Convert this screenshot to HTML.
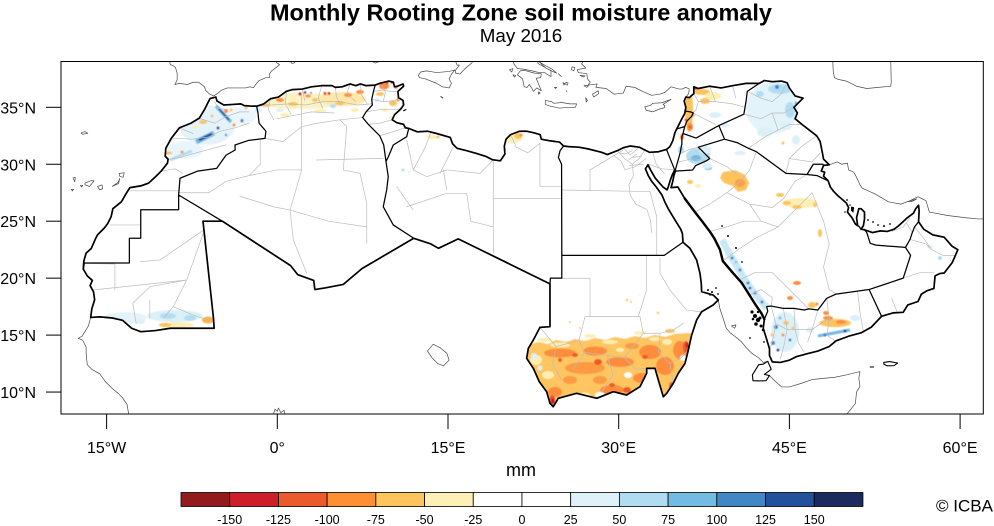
<!DOCTYPE html>
<html><head><meta charset="utf-8">
<style>
html,body{margin:0;padding:0;background:#fff;}
svg{display:block;}
.m path{vector-effect:non-scaling-stroke;fill:none;stroke-linejoin:round;stroke-linecap:round;}
.out{stroke:#000;stroke-width:1.7;}
.int{stroke:#000;stroke-width:1.25;}
.cst{stroke:#4a4a4a;stroke-width:0.7;}
.adm{stroke:#bcbcbc;stroke-width:0.7;}
.blk{stroke:#000;stroke-width:1.1;}
text{font-family:"Liberation Sans",Arial,sans-serif;fill:#000;}
</style></head><body>
<svg width="994" height="526" viewBox="0 0 994 526" xmlns="http://www.w3.org/2000/svg">
<defs>
<clipPath id="fr"><rect x="61" y="61" width="922.3" height="353"/></clipPath>
<clipPath id="land"><path transform="matrix(11.38 0 0 -11.39 277.3 505.95)" d="M-16.4 16.55 L-16.3 17.3 -16.05 18.1 -16.15 18.8 -16.45 19.35 -16.25 19.8 -16.7 20.2 -17.05 20.8 -17.0 21.5 -16.8 22.2 -16.35 22.6 -16.0 23.4 -15.8 23.8 -15.2 24.4 -14.9 24.8 -14.6 25.4 -14.45 26.1 -13.7 26.7 -13.3 27.4 -12.95 27.95 -12.0 28.1 -11.3 28.35 -10.7 28.9 -10.2 29.4 -9.65 30.1 -9.6 30.45 -9.85 30.7 -9.8 31.4 -9.3 32.3 -8.6 33.2 -7.6 33.6 -6.85 34.05 -6.4 34.8 -6.1 35.4 -5.9 35.78 -5.4 35.9 -5.3 35.55 -4.7 35.2 -3.9 35.25 -3.2 35.3 -2.9 35.15 -2.2 35.1 -1.8 35.1 -1.2 35.3 -0.6 35.75 0.1 35.9 0.8 36.4 1.3 36.55 2.2 36.6 3.0 36.8 3.9 36.9 4.8 36.9 5.1 36.75 5.7 36.8 6.4 37.05 6.9 36.9 7.3 37.05 7.8 36.9 8.6 36.95 9.0 37.1 9.8 37.3 10.2 37.2 10.3 36.8 10.55 36.85 11.05 37.05 11.1 36.85 10.6 36.4 10.65 35.85 11.05 35.6 11.1 35.2 10.85 34.85 10.3 34.35 10.1 33.9 10.5 33.65 11.1 33.5 11.25 33.2 11.55 33.15 12.3 32.85 13.2 32.9 14.0 32.7 15.2 32.35 15.4 31.8 15.8 31.4 16.6 31.2 17.5 30.95 18.3 30.7 18.9 30.4 19.6 30.3 20.0 30.9 19.95 31.6 20.1 32.2 20.5 32.6 21.3 32.9 21.9 32.9 22.6 32.75 23.1 32.6 23.2 32.2 24.0 32.05 24.8 31.95 25.15 31.6 25.6 31.55 26.5 31.5 27.3 31.35 28.5 31.05 29.0 30.85 29.9 31.2 30.4 31.45 31.0 31.6 31.8 31.5 32.3 31.25 32.7 31.05 33.5 31.1 34.2 31.3 34.5 31.55 34.75 32.05 34.95 32.8 35.1 33.1 35.5 33.9 35.8 34.45 35.9 35.0 35.75 35.55 35.9 35.9 36.2 35.85 36.6 36.2 36.6 36.8 37.0 36.65 38.0 36.85 39.0 36.7 40.0 36.9 41.2 37.1 42.35 37.1 42.8 37.35 43.5 37.25 44.3 37.3 44.8 37.15 45.0 36.7 45.5 36.0 46.2 35.8 45.4 35.0 45.7 34.5 45.5 34.0 46.1 33.5 47.4 32.5 47.7 32.0 47.9 31.0 48.0 30.45 48.5 29.95 48.0 29.9 47.8 29.4 48.1 29.3 48.0 28.95 48.4 28.55 48.6 28.0 48.9 27.6 49.3 27.2 49.6 26.95 50.0 26.6 50.2 26.2 50.1 25.8 50.5 25.3 50.8 24.75 51.0 24.6 50.9 25.3 51.1 26.1 51.3 26.1 51.6 25.8 51.6 25.2 51.5 24.6 51.3 24.3 51.6 24.25 52.3 24.0 53.0 24.15 53.6 24.1 54.2 24.3 54.6 24.6 55.3 25.25 55.9 25.7 56.1 26.1 56.35 26.4 56.4 25.9 56.35 24.95 56.8 24.3 57.6 23.8 58.6 23.6 59.3 22.8 59.8 22.5 59.5 21.8 59.3 21.35 58.6 20.45 58.2 20.4 57.8 20.2 57.7 19.1 57.1 18.9 56.6 18.6 56.3 17.95 55.4 17.65 55.0 17.0 54.1 16.95 53.1 16.65 52.2 15.7 51.3 15.2 50.2 14.9 49.1 14.5 48.5 14.0 47.5 13.6 46.7 13.4 45.6 13.1 45.0 12.8 44.2 12.6 43.5 12.65 43.25 13.2 43.25 13.8 42.95 14.8 42.7 15.6 42.8 16.4 42.55 16.9 42.0 17.7 41.5 18.5 40.8 19.6 40.0 20.5 39.15 21.5 38.9 22.5 38.4 23.5 38.0 24.1 37.4 24.9 36.7 25.8 35.8 27.0 35.2 28.0 34.6 27.95 34.75 28.5 34.85 29.0 35.0 29.45 34.92 29.5 34.7 29.05 34.5 28.5 34.35 28.0 34.25 27.75 33.9 28.0 33.5 28.45 33.2 28.8 32.8 29.5 32.57 29.95 32.35 29.6 32.6 29.0 32.9 28.5 33.3 28.0 33.8 27.3 34.05 26.7 34.35 26.1 34.95 25.1 35.45 24.3 35.6 23.9 35.65 23.15 36.26 22.62 36.85 21.59 37.14 20.43 37.25 19.6 37.29 18.81 38.3 18.52 38.75 18.08 38.3 17.64 37.29 17.05 36.85 16.33 36.41 15.0 36.12 13.69 35.83 12.52 35.24 11.65 34.8 10.77 34.22 9.89 33.92 9.59 33.48 11.06 33.19 12.08 32.46 12.08 32.46 11.65 31.87 10.47 30.7 9.74 29.53 10.03 28.07 9.45 26.3 9.89 24.69 9.45 24.25 8.71 23.96 9.01 23.67 10.03 23.02 10.91 22.5 12.08 21.91 12.96 22.06 13.84 22.5 14.57 23.08 15.68 23.96 15.74 23.96 19.5 15.9 23.45 14.16 22.62 13.5 23.0 11.99 23.5 7.45 20.85 5.8 19.45 4.25 19.15 3.3 19.0 3.2 19.8 1.8 20.3 1.17 21.1 -4.83 25.0 -6.53 25.0 -5.6 16.4 -5.55 15.6 -9.4 15.6 -10.7 15.4 -12.0 15.3 -12.8 15.6 -13.6 16.3 -14.5 16.5 -15.6 16.6 Z"/></clipPath>
<clipPath id="sdn"><path transform="matrix(11.38 0 0 -11.39 277.3 505.95)" d="M25.0 22.0 L34.0 22.0 35.65 23.15 36.26 22.62 36.85 21.59 37.14 20.43 37.25 19.6 37.29 18.81 38.3 18.52 38.75 18.08 38.3 17.64 37.29 17.05 36.85 16.33 36.41 15.0 36.12 13.69 35.83 12.52 35.24 11.65 34.8 10.77 34.22 9.89 33.92 9.59 33.48 11.06 33.19 12.08 32.46 12.08 32.46 11.65 31.87 10.47 30.7 9.74 29.53 10.03 28.07 9.45 26.3 9.89 24.69 9.45 24.25 8.71 23.96 9.01 23.67 10.03 23.02 10.91 22.5 12.08 21.91 12.96 22.06 13.84 22.5 14.57 23.08 15.68 23.96 15.74 23.96 19.5 24.0 20.0 25.0 20.0 Z"/></clipPath>
<filter id="bl" x="-5%" y="-5%" width="110%" height="110%"><feGaussianBlur stdDeviation="0.6"/></filter>
</defs>

<!-- Title -->
<text x="521" y="20.5" font-size="23.5" font-weight="bold" text-anchor="middle" textLength="502" lengthAdjust="spacingAndGlyphs">Monthly Rooting Zone soil moisture anomaly</text>
<text x="521" y="42" font-size="18.8" text-anchor="middle">May 2016</text>

<g clip-path="url(#fr)">
<!-- data -->
<g clip-path="url(#land)">
<g filter="url(#bl)">
<!-- Morocco -->
<ellipse cx="207" cy="125" rx="28" ry="20" fill="#e4f3fa"/>
<ellipse cx="185" cy="150" rx="18" ry="9" fill="#e8f5fb"/>
<ellipse cx="240" cy="116" rx="16" ry="9" fill="#eaf6fb"/>
<polyline points="170,160 182,155 192,151" fill="none" stroke="#b2ddf1" stroke-width="3"/>
<line x1="196" y1="142" x2="214" y2="133" stroke="#74b9e1" stroke-width="5"/>
<line x1="199" y1="140" x2="212" y2="134" stroke="#23519b" stroke-width="2.5"/>
<line x1="216" y1="106" x2="231" y2="122" stroke="#74b9e1" stroke-width="3.5"/>
<line x1="219" y1="109" x2="229" y2="120" stroke="#23519b" stroke-width="1.6"/>
<circle cx="218" cy="128" r="1.5" fill="#23519b"/>
<circle cx="242" cy="120" r="1.3" fill="#4386c6"/>
<circle cx="226" cy="135" r="1.2" fill="#4386c6"/>
<circle cx="226" cy="111" r="2" fill="#fd8d3c"/>
<circle cx="231" cy="110" r="1.5" fill="#fec35c"/>
<ellipse cx="203" cy="122" rx="4" ry="2" fill="#fec35c"/>
<ellipse cx="168" cy="153" rx="4" ry="1.6" fill="#fec35c"/>
<circle cx="182" cy="152" r="1.5" fill="#fd8d3c"/>
<circle cx="234" cy="125" r="1.5" fill="#fd8d3c"/>
<ellipse cx="195" cy="127" rx="3" ry="1.5" fill="#fdefb2"/>
<circle cx="212" cy="116" r="1.5" fill="#fec35c"/>
<circle cx="246" cy="108" r="1.5" fill="#fec35c"/>
<!-- Algeria north -->
<ellipse cx="300" cy="101" rx="45" ry="8" fill="#fdf2c4"/>
<ellipse cx="342" cy="99" rx="24" ry="7" fill="#fde8a8"/>
<ellipse cx="265" cy="105" rx="5" ry="2" fill="#fec35c"/>
<ellipse cx="280" cy="100" rx="4" ry="2" fill="#fd8d3c"/>
<ellipse cx="293" cy="104" rx="5" ry="2" fill="#fec35c"/>
<circle cx="300" cy="94" r="1.6" fill="#cb1f26"/>
<ellipse cx="308" cy="96" rx="3" ry="1.5" fill="#fd8d3c"/>
<circle cx="325" cy="93.5" r="1.6" fill="#ee5a2a"/>
<circle cx="329" cy="93.5" r="1.4" fill="#cb1f26"/>
<ellipse cx="340" cy="103" rx="5" ry="2" fill="#fec35c"/>
<ellipse cx="348" cy="95" rx="4" ry="2" fill="#fd8d3c"/>
<ellipse cx="360" cy="92" rx="4" ry="2" fill="#fd8d3c"/>
<ellipse cx="355" cy="110" rx="4" ry="2" fill="#fdefb2"/>
<ellipse cx="320" cy="111" rx="6" ry="2" fill="#fdefb2"/>
<ellipse cx="285" cy="115" rx="5" ry="2" fill="#fdefb2"/>
<ellipse cx="315" cy="100" rx="3" ry="2" fill="#fec35c"/>
<circle cx="305" cy="92.5" r="1.3" fill="#23519b"/>
<circle cx="311" cy="93" r="1" fill="#4386c6"/>
<ellipse cx="280" cy="110" rx="4" ry="2" fill="#dcf0f8"/>
<ellipse cx="258" cy="110" rx="4" ry="3" fill="#dcf0f8"/>
<circle cx="242" cy="121" r="1.5" fill="#4386c6"/>
<ellipse cx="270" cy="97" rx="3" ry="1.5" fill="#b2ddf1"/>
<ellipse cx="333" cy="106" rx="3" ry="2" fill="#b2ddf1"/>
<!-- Tunisia -->
<ellipse cx="384" cy="86" rx="5" ry="3.5" fill="#fd8d3c"/>
<circle cx="387" cy="83" r="1.6" fill="#ee5a2a"/>
<circle cx="396" cy="87" r="1.6" fill="#ee5a2a"/>
<circle cx="392" cy="82" r="1.5" fill="#cb1f26"/>
<ellipse cx="380" cy="94" rx="4" ry="2" fill="#fec35c"/>
<ellipse cx="393" cy="103" rx="4" ry="3" fill="#fec35c"/>
<circle cx="398" cy="100" r="1.5" fill="#fd8d3c"/>
<ellipse cx="385" cy="110" rx="3" ry="2" fill="#fdefb2"/>
<ellipse cx="377" cy="100" rx="3" ry="2" fill="#dcf0f8"/>
<ellipse cx="392" cy="118" rx="3" ry="2" fill="#fdefb2"/>
<!-- Libya -->
<ellipse cx="432" cy="137" rx="6" ry="2" fill="#fdefb2"/>
<circle cx="438" cy="137" r="1.5" fill="#fec35c"/>
<ellipse cx="513" cy="138" rx="9" ry="5" fill="#fdefb2"/>
<ellipse cx="518" cy="136" rx="4" ry="3" fill="#fec35c"/>
<circle cx="521" cy="135" r="1.5" fill="#fd8d3c"/>
<circle cx="403" cy="170" r="1.5" fill="#b2ddf1"/>
<circle cx="409" cy="172" r="1.2" fill="#dcf0f8"/>
<!-- Levant -->
<ellipse cx="689" cy="110" rx="4" ry="22" fill="#fec35c"/>
<ellipse cx="690" cy="127" rx="3" ry="4" fill="#fd8d3c"/>
<circle cx="690" cy="127" r="1.5" fill="#ee5a2a"/>
<ellipse cx="695" cy="88" rx="4" ry="2" fill="#ee5a2a"/>
<ellipse cx="702" cy="92" rx="8" ry="3" fill="#fec35c"/>
<ellipse cx="713" cy="96" rx="8" ry="4" fill="#fdefb2"/>
<ellipse cx="705" cy="101" rx="5" ry="3" fill="#fec35c"/>
<circle cx="686" cy="120" r="1.5" fill="#ee5a2a"/>
<circle cx="693" cy="115" r="1.5" fill="#fd8d3c"/>
<ellipse cx="682" cy="137" rx="2" ry="3" fill="#fd8d3c"/>
<ellipse cx="681" cy="150" rx="3" ry="4" fill="#b2ddf1"/>
<ellipse cx="698" cy="156" rx="12" ry="8" fill="#b2ddf1"/>
<ellipse cx="696" cy="158" rx="5" ry="3" fill="#74b9e1"/>
<ellipse cx="705" cy="150" rx="6" ry="4" fill="#dcf0f8"/>
<ellipse cx="708" cy="168" rx="4" ry="2" fill="#74b9e1"/>
<ellipse cx="715" cy="115" rx="6" ry="3" fill="#dcf0f8"/>
<ellipse cx="725" cy="125" rx="4" ry="2" fill="#dcf0f8"/>
<ellipse cx="690" cy="182" rx="3" ry="2" fill="#fec35c"/>
<ellipse cx="698" cy="186" rx="3" ry="2" fill="#fdefb2"/>
<!-- Iraq -->
<ellipse cx="772" cy="108" rx="26" ry="26" fill="#e3f3fa"/>
<ellipse cx="780" cy="89" rx="12" ry="5" fill="#b2ddf1"/>
<circle cx="777" cy="87" r="2" fill="#4386c6"/>
<ellipse cx="790" cy="110" rx="5" ry="8" fill="#b2ddf1"/>
<circle cx="796" cy="103" r="1.5" fill="#74b9e1"/>
<ellipse cx="760" cy="94" rx="4" ry="3" fill="#b2ddf1"/>
<ellipse cx="786" cy="126" rx="6" ry="4" fill="#dcf0f8"/>
<circle cx="783" cy="143" r="1.5" fill="#fec35c"/>
<ellipse cx="765" cy="132" rx="8" ry="5" fill="#dcf0f8"/>
<ellipse cx="796" cy="140" rx="4" ry="5" fill="#dcf0f8"/>
<!-- Saudi -->
<polygon points="723,172 735,170 745,175 749,183 746,190 738,192 733,186 724,183 720,178" fill="#fec35c"/>
<ellipse cx="740" cy="183" rx="5" ry="4" fill="#fd9f45"/>
<ellipse cx="800" cy="203" rx="18" ry="5" fill="#fdefb2"/>
<ellipse cx="787" cy="203" rx="4" ry="2" fill="#fec35c"/>
<ellipse cx="797" cy="207" rx="5" ry="2" fill="#fec35c"/>
<circle cx="815" cy="205" r="2" fill="#fec35c"/>
<ellipse cx="780" cy="195" rx="4" ry="2" fill="#fec35c"/>
<ellipse cx="820" cy="233" rx="2" ry="4" fill="#fec35c"/>
<ellipse cx="740" cy="153" rx="6" ry="2" fill="#dcf0f8"/>
<ellipse cx="707" cy="166" rx="5" ry="3" fill="#dcf0f8"/>
<polyline points="722,240 730,255 738,268 745,280 752,290 760,300 767,308" fill="none" stroke="#c9e8f5" stroke-width="7"/>
<circle cx="732" cy="258" r="1.5" fill="#4386c6"/>
<circle cx="740" cy="270" r="1.5" fill="#4386c6"/>
<circle cx="748" cy="283" r="1.5" fill="#4386c6"/>
<circle cx="755" cy="293" r="1.5" fill="#4386c6"/>
<circle cx="762" cy="302" r="1.5" fill="#4386c6"/>
<circle cx="750" cy="288" r="1.3" fill="#23519b"/>
<circle cx="736" cy="262" r="1.2" fill="#74b9e1"/>
<ellipse cx="797" cy="283" rx="4" ry="2" fill="#fd8d3c"/>
<ellipse cx="790" cy="298" rx="3" ry="2" fill="#fd8d3c"/>
<ellipse cx="812" cy="305" rx="4" ry="3" fill="#fec35c"/>
<circle cx="817" cy="304" r="1.5" fill="#fd8d3c"/>
<!-- Yemen -->
<ellipse cx="785" cy="332" rx="14" ry="20" fill="#dcf0f8"/>
<circle cx="776" cy="327" r="2" fill="#4386c6"/>
<circle cx="773" cy="343" r="2" fill="#4386c6"/>
<circle cx="780" cy="318" r="1.5" fill="#74b9e1"/>
<circle cx="790" cy="340" r="1.5" fill="#4386c6"/>
<circle cx="778" cy="350" r="1.5" fill="#23519b"/>
<ellipse cx="786" cy="323" rx="3" ry="2" fill="#fec35c"/>
<circle cx="783" cy="335" r="1.5" fill="#fd8d3c"/>
<circle cx="793" cy="328" r="1.5" fill="#fec35c"/>
<circle cx="772" cy="335" r="1.5" fill="#fec35c"/>
<ellipse cx="835" cy="323" rx="16" ry="4" fill="#fec35c"/>
<ellipse cx="828" cy="318" rx="5" ry="2" fill="#fd8d3c"/>
<ellipse cx="841" cy="322" rx="5" ry="2" fill="#fd8d3c"/>
<line x1="818" y1="336" x2="850" y2="330" stroke="#74b9e1" stroke-width="3"/>
<circle cx="825" cy="335" r="1.5" fill="#4386c6"/>
<circle cx="845" cy="331" r="1.5" fill="#23519b"/>
<ellipse cx="810" cy="330" rx="4" ry="3" fill="#dcf0f8"/>
<ellipse cx="855" cy="318" rx="5" ry="3" fill="#dcf0f8"/>
<ellipse cx="826" cy="313" rx="3" ry="2" fill="#fd8d3c"/>
<!-- Oman -->
<ellipse cx="930" cy="247" rx="3" ry="2" fill="#dcf0f8"/>
<circle cx="940" cy="258" r="2" fill="#b2ddf1"/>
<!-- Mauritania south -->
<ellipse cx="125" cy="318" rx="22" ry="6" fill="#e4f3fa"/>
<ellipse cx="175" cy="316" rx="28" ry="6" fill="#dcf0f8"/>
<ellipse cx="168" cy="316" rx="8" ry="3" fill="#b2ddf1"/>
<ellipse cx="190" cy="318" rx="6" ry="3" fill="#b2ddf1"/>
<ellipse cx="140" cy="322" rx="5" ry="2" fill="#dcf0f8"/>
<ellipse cx="176" cy="325" rx="18" ry="3" fill="#fdefb2"/>
<ellipse cx="165" cy="325" rx="6" ry="2" fill="#fec35c"/>
<ellipse cx="208" cy="320" rx="6" ry="3.5" fill="#fdb24a"/>
<!-- Sudan scattered north -->
<circle cx="627" cy="300" r="1.2" fill="#fec35c"/>
<circle cx="631" cy="302" r="1" fill="#fec35c"/>
<circle cx="640" cy="295" r="1" fill="#fdefb2"/>
<circle cx="658" cy="313" r="1.2" fill="#fec35c"/>
<circle cx="700" cy="293" r="1.5" fill="#dcf0f8"/>
<circle cx="570" cy="322" r="1" fill="#fec35c"/>
<circle cx="580" cy="328" r="1" fill="#fec35c"/>
</g>
<!-- Sudan south -->
<g clip-path="url(#sdn)">
<g filter="url(#bl)">
<ellipse cx="545" cy="340" rx="8" ry="2" fill="#fdefb2"/>
<ellipse cx="590" cy="336" rx="6" ry="2" fill="#fdefb2"/>
<ellipse cx="640" cy="333" rx="6" ry="2" fill="#fdefb2"/>
<ellipse cx="670" cy="331" rx="5" ry="2" fill="#fec35c"/>
<path d="M515 347 L528 345 538 342 548 344 556 340 566 342 575 339 585 341 595 338 605 340 615 337 625 339 635 336 645 338 655 335 665 337 675 334 688 333 700 335 L700 413 L515 413 Z" fill="#fec560"/>
<ellipse cx="560" cy="345" rx="10" ry="2.5" fill="#fdefb2"/>
<ellipse cx="610" cy="342" rx="8" ry="2" fill="#fdefb2"/>
<ellipse cx="655" cy="339" rx="6" ry="2" fill="#fdefb2"/>
<ellipse cx="560" cy="353" rx="16" ry="4.5" fill="#fd8d3c"/>
<ellipse cx="595" cy="351" rx="12" ry="4.5" fill="#fd8d3c"/>
<ellipse cx="585" cy="368" rx="20" ry="6" fill="#fd9a42"/>
<ellipse cx="620" cy="362" rx="14" ry="5" fill="#fd8d3c"/>
<ellipse cx="650" cy="352" rx="11" ry="7" fill="#fd8d3c"/>
<ellipse cx="665" cy="366" rx="9" ry="9" fill="#fd8d3c"/>
<ellipse cx="612" cy="390" rx="12" ry="5" fill="#fd8d3c"/>
<ellipse cx="555" cy="392" rx="7" ry="5" fill="#fd8d3c"/>
<ellipse cx="642" cy="378" rx="9" ry="5" fill="#fd8d3c"/>
<ellipse cx="600" cy="380" rx="7" ry="4" fill="#fd9a42"/>
<ellipse cx="570" cy="380" rx="7" ry="4" fill="#fd9a42"/>
<ellipse cx="680" cy="350" rx="7" ry="9" fill="#fd8d3c"/>
<ellipse cx="632" cy="346" rx="7" ry="3" fill="#fd9a42"/>
<ellipse cx="552" cy="400" rx="3" ry="5" fill="#ee5a2a"/>
<ellipse cx="598" cy="362" rx="4" ry="3" fill="#ee5a2a"/>
<ellipse cx="627" cy="390" rx="4" ry="3" fill="#ee5a2a"/>
<ellipse cx="686" cy="347" rx="3" ry="6" fill="#ee5a2a"/>
<ellipse cx="672" cy="386" rx="3" ry="4" fill="#ee5a2a"/>
<ellipse cx="645" cy="357" rx="3" ry="2" fill="#ee5a2a"/>
<ellipse cx="575" cy="355" rx="3" ry="2" fill="#ee5a2a"/>
<ellipse cx="612" cy="385" rx="3" ry="2" fill="#ee5a2a"/>
<circle cx="560" cy="360" r="2" fill="#ee5a2a"/>
<ellipse cx="553" cy="401" rx="2" ry="3" fill="#cb1f26"/>
<ellipse cx="687" cy="345" rx="1.5" ry="3" fill="#cb1f26"/>
<ellipse cx="548" cy="375" rx="6" ry="4" fill="#fdefb2"/>
<ellipse cx="683" cy="358" rx="3" ry="3" fill="#ffffff"/>
<ellipse cx="654" cy="398" rx="4" ry="3" fill="#ffffff"/>
<ellipse cx="605" cy="403" rx="7" ry="3" fill="#fdefb2"/>
<ellipse cx="536" cy="360" rx="6" ry="5" fill="#fdefb2"/>
<ellipse cx="600" cy="395" rx="5" ry="3" fill="#ffffff"/>
<ellipse cx="628" cy="375" rx="4" ry="3" fill="#ffffff"/>
<ellipse cx="667" cy="342" rx="5" ry="3" fill="#fdefb2"/>
<ellipse cx="585" cy="395" rx="5" ry="2.5" fill="#fdefb2"/>
<ellipse cx="620" cy="350" rx="4" ry="2" fill="#fdefb2"/>
<circle cx="534" cy="356" r="3" fill="#dcf0f8"/>
<circle cx="540" cy="368" r="2.5" fill="#dcf0f8"/>
<circle cx="660" cy="395" r="2" fill="#dcf0f8"/>
</g>
</g>
</g>

<!-- map lines -->
<g class="m" transform="matrix(11.38 0 0 -11.39 277.3 505.95)">
<!-- admin -->
<path class="adm" d="M-9.6 30.4 L-8.5 30.6 -7.5 30.9 -6.0 31.3 -4.5 31.7 M-9.3 32.3 L-7.5 32.2 -6.0 32.4 -5.0 32.9 -3.7 33.2 -2.5 33.6 M-6.9 34.05 L-5.5 33.6 -4.5 34.2 -3.3 34.6 -2.5 34.6 M-8.6 33.2 L-7.4 32.7 M-5.5 35.5 L-5.2 34.9 -4.4 34.8 M-10.2 29.4 L-9.0 29.6 -8.3 29.2 M-12.95 27.67 L-8.67 27.67 M-14.7 24.67 L-12.07 24.67 M-16.2 18.96 L-7.96 19.84 -6.5 23.95 M-12.07 21.44 L-10.3 21.6 -6.5 24.2 M-12.7 17.8 L-11.2 19.25 -7.96 19.84 M-16.9 21.3 L-14.27 21.24 -14.27 18.96 M-7.96 19.84 L-9.14 17.5 -10.0 16.5 M-11.2 18.07 L-11.2 16.47 M-12.7 17.8 L-12.4 16.0 M-9.14 17.5 L-7.5 16.8 -6.0 16.3"/>
<path class="adm" d="M2.14 36.0 L2.14 33.3 2.14 29.5 1.12 25.98 1.41 23.35 2.58 20.43 M5.5 33.9 L6.1 33.3 5.8 29.5 7.27 29.2 7.86 26.57 7.86 23.06 M3.46 30.37 L9.31 30.52 M-1.08 32.27 L0.5 32.0 2.14 33.3 3.5 33.6 5.5 33.9 7.5 34.1 M-1.5 32.1 L-1.5 30.0 -2.5 29.0 -4.5 28.5 -6.0 27.5 -8.67 27.5 M-2.5 29.0 L0.0 29.5 2.14 29.5 M-3.3 27.2 L-0.35 26.27 1.12 25.98 M-0.6 35.75 L-0.8 34.8 -0.3 33.9 M0.8 36.4 L0.7 35.3 1.2 34.4 M2.2 36.6 L2.4 35.6 M3.9 36.9 L3.6 35.8 4.0 34.9 M5.1 36.75 L5.2 35.9 5.6 35.2 M6.4 37.05 L6.1 36.2 6.9 35.5 M7.3 37.05 L7.4 36.1 7.9 35.3 M-1.8 35.1 L-0.5 35.2 1.0 35.3 2.5 35.2 4.0 35.5 5.5 35.5 7.0 35.2 8.3 35.3 M0.0 34.0 L3.0 34.6 5.0 34.5 M1.12 25.98 L4.5 25.0 7.86 24.5"/>
<path class="adm" d="M8.45 36.4 L9.2 36.5 10.0 36.4 10.6 36.4 M8.3 35.7 L9.3 35.5 10.2 35.5 10.65 35.85 M7.8 34.6 L9.0 34.8 10.1 34.8 10.85 34.85 M8.0 33.5 L9.0 33.6 10.1 33.9 M9.0 32.5 L10.0 32.8 11.25 33.2 M9.2 36.9 L9.5 36.3 9.3 35.5"/>
<path class="adm" d="M11.37 32.13 L11.95 29.5 13.13 28.91 14.89 29.5 17.81 29.2 18.98 30.37 M18.98 30.37 L18.98 22.18 M23.08 31.84 L23.08 28.03 25.0 28.03 M18.98 27.0 L25.0 27.0 M10.49 28.03 L11.95 25.98 M11.37 26.27 L14.89 27.45 16.64 27.45 M14.59 29.5 L14.89 27.74 M15.47 31.54 L14.3 29.2 M13.5 32.8 L13.0 31.5 11.95 29.5 M20.5 32.6 L21.0 31.5 22.0 31.0 23.08 31.84 M16.64 27.45 L17.0 25.0 18.98 24.5"/>
<path class="adm" d="M25.0 27.74 L32.75 27.6 M27.48 27.74 L27.48 29.5 30.4 31.25 M32.75 27.6 L33.34 25.4 33.34 22.03 M29.9 31.2 L30.5 30.5 31.2 30.0 31.8 30.5 32.3 31.25 M30.4 31.45 L31.0 30.8 31.8 31.5 M31.2 30.0 L31.3 29.0 30.9 28.2 31.0 27.3 31.5 26.5 32.5 26.0 32.8 25.0 32.9 24.0 M32.6 30.0 L33.8 29.6 34.92 29.5 M30.5 29.5 L31.5 29.8 32.4 30.5 M30.0 31.0 L30.6 30.9 31.2 31.2 M30.9 30.4 L31.6 30.9 M31.2 30.6 L32.0 30.7 M29.5 30.8 L30.2 30.3 30.5 29.6 M31.0 29.9 L32.2 30.0 M33.0 31.0 L33.3 30.0 34.0 29.2"/>
<path class="adm" d="M23.96 19.99 L27.48 19.99 27.48 16.62 M27.04 16.62 L31.87 16.62 M32.46 22.0 L32.46 18.96 31.72 16.62 M33.63 21.74 L33.63 20.43 34.51 18.96 35.97 17.2 37.14 17.05 M31.87 16.62 L32.16 15.16 33.63 15.16 34.8 15.45 35.68 16.04 M27.04 16.62 L26.5 14.5 27.0 13.5 26.0 12.0 M23.08 15.68 L24.5 14.0 26.5 14.5 M24.5 14.0 L24.2 12.5 25.0 11.0 M27.0 13.5 L29.0 13.2 30.5 13.0 32.16 15.16 M29.0 13.2 L29.5 11.5 28.5 10.0 M30.5 13.0 L31.5 12.0 32.46 12.08 M33.63 15.16 L33.5 13.5 34.5 12.5 35.5 13.0 36.12 13.69 M34.5 12.5 L34.8 10.77"/>
<path class="adm" d="M36.7 25.8 L38.0 26.5 39.5 27.5 40.5 28.3 41.5 29.5 42.1 31.1 M38.0 30.5 L39.5 29.8 40.5 29.0 M39.5 27.5 L41.5 26.5 43.5 26.2 44.5 27.0 45.5 28.5 46.55 29.1 M41.5 26.5 L42.5 25.0 44.0 24.5 M38.0 24.1 L39.5 24.5 41.0 25.0 42.5 25.0 M39.15 21.5 L40.5 22.5 42.0 23.5 44.0 24.5 M40.5 19.8 L42.0 20.5 43.5 20.5 44.5 19.5 45.5 18.5 46.7 17.3 M41.5 18.5 L42.5 19.0 43.5 18.3 43.4 17.55 M44.0 24.5 L45.5 26.0 47.0 27.5 48.0 25.0 48.5 23.0 48.0 21.0 48.5 19.0 49.1 18.6 M40.8 19.6 L40.5 19.8"/>
<path class="adm" d="M41.3 36.4 L42.5 35.8 43.5 35.5 44.3 36.2 44.8 37.15 M41.0 34.4 L42.5 34.0 43.5 34.5 44.5 34.5 45.4 35.0 M41.4 31.4 L43.0 32.5 44.0 33.0 45.0 33.5 46.1 33.5 M44.7 29.2 L45.0 30.5 46.0 31.5 47.4 32.5 M43.5 34.5 L44.0 33.0 M45.0 30.5 L47.0 30.2 47.7 31.0 M36.6 36.2 L37.0 35.5 36.8 34.8 36.5 34.5 M37.0 35.5 L38.5 35.5 40.0 35.3 41.1 35.0 M38.0 36.85 L38.5 35.5 M40.0 36.9 L40.3 35.8 M36.5 34.5 L37.5 34.0 38.5 33.5 M35.55 31.0 L36.2 31.3 37.0 31.5 M35.3 30.2 L36.5 30.5 37.7 30.3"/>
<path class="adm" d="M43.4 17.55 L43.8 16.0 43.6 14.8 43.3 13.8 M44.46 17.35 L44.8 15.5 44.5 14.0 44.2 12.9 M45.4 17.35 L45.5 15.5 45.8 14.3 46.3 13.5 M47.5 17.2 L47.0 15.5 46.6 14.4 M48.28 18.23 L48.5 16.5 48.3 15.0 49.0 14.5 M51.0 18.8 L51.2 17.0 51.5 15.3 M43.8 16.0 L44.8 15.5 45.5 15.5 47.0 15.5 48.5 16.5 M55.0 20.0 L56.5 20.5 57.7 20.5 M56.0 24.5 L56.8 23.5 57.5 22.5 58.5 22.0 59.5 22.0 M55.6 23.4 L57.0 23.0 57.5 22.5 M54.0 18.2 L54.5 16.95 M54.0 24.1 L55.0 24.5 55.6 25.3 M55.8 24.0 L55.3 24.8"/>
<!-- other coastlines -->
<path class="cst" d="M-16.4 16.55 L-16.6 15.8 -17.15 14.9 -17.5 14.72 -17.1 14.55 -16.8 13.95 -16.8 13.4 -16.7 12.4 -16.3 12.0 -15.6 11.6 -15.1 10.9 -14.6 10.4 -14.0 9.9 -13.6 9.5 -13.2 8.9 -13.05 8.0"/>
<path class="cst" d="M-17.25 32.75 L-16.9 32.87 -16.65 32.72 -17.1 32.63 Z M-17.95 28.8 L-17.75 28.85 -17.8 28.45 Z M-16.9 28.35 L-16.4 28.55 -16.1 28.55 -16.5 28.05 -16.9 28.2 Z M-15.8 28.05 L-15.4 28.18 -15.35 27.85 -15.6 27.75 Z M-14.5 28.05 L-14.0 28.4 -13.85 28.75 -13.95 28.3 Z M-13.9 29.2 L-13.45 29.25 -13.55 28.85 -13.85 28.95 Z M-17.3 28.15 L-17.1 28.15 -17.2 28.0 Z M-18.1 27.8 L-17.9 27.8 -18.0 27.65 Z"/>
<path class="cst" d="M-9.5 39.2 L-9.4 38.75 -9.15 38.65 -8.95 38.5 -8.8 38.0 -8.8 37.4 -9.0 37.0 -8.6 37.1 -7.9 37.0 -7.4 37.2 -6.9 37.2 -6.4 36.8 -6.3 36.5 -6.0 36.2 -5.6 36.0 -5.35 36.15 -4.9 36.5 -4.4 36.7 -3.5 36.7 -2.8 36.7 -2.4 36.8 -2.1 36.72 -1.9 37.0 -1.6 37.35 -1.0 37.6 -0.7 37.6 -0.7 37.9 -0.5 38.2 -0.1 38.5 0.2 38.75 -0.05 38.9 -0.2 39.2 M1.2 38.95 L1.4 39.1 1.6 39.05 1.5 38.9 1.3 38.85 Z"/>
<path class="cst" d="M8.4 39.2 L8.45 38.95 8.65 38.88 9.0 39.05 9.3 39.2 9.55 39.15 9.6 39.3 M12.4 37.8 L12.6 38.1 13.1 38.2 13.4 38.15 14.0 38.05 15.1 38.15 15.6 38.28 15.3 37.9 15.1 37.5 15.3 37.1 15.1 36.7 14.5 36.8 14.0 37.1 13.0 37.5 12.5 37.6 Z M15.6 39.2 L15.8 38.7 16.0 38.7 15.65 38.25 15.65 38.0 16.05 37.92 16.5 38.4 17.1 38.9 17.2 39.2 M14.35 35.95 L14.55 35.85 14.5 35.8 Z"/>
<path class="cst" d="M20.7 39.2 L20.8 38.8 21.1 38.4 21.6 38.35 22.4 38.2 23.0 38.05 23.5 38.05 23.7 37.9 24.05 37.7 24.05 38.2 23.6 38.45 23.2 38.8 22.95 39.2 M21.35 38.2 L21.7 38.25 22.6 38.0 23.2 37.95 23.15 37.6 22.75 37.55 23.2 36.45 22.8 36.7 22.5 36.4 22.35 36.7 22.15 37.0 21.95 36.75 21.7 36.8 21.55 37.5 21.1 37.85 Z M22.9 39.05 L23.5 38.7 24.15 38.35 24.55 38.0 24.3 38.1 23.6 38.45 22.9 38.85 Z M20.4 38.3 L20.7 38.4 20.6 38.1 Z M20.7 37.85 L20.95 37.8 20.85 37.65 Z M25.35 37.2 L25.55 37.15 25.5 36.95 25.35 37.0 Z M25.1 37.15 L25.25 37.1 25.2 36.95 Z M25.9 38.55 L26.15 38.5 26.05 38.2 25.85 38.3 Z M26.6 37.8 L27.05 37.75 26.9 37.65 Z M26.95 36.9 L27.35 36.9 27.2 36.75 Z M27.7 36.15 L28.2 36.45 28.25 36.2 27.8 35.9 Z M27.1 35.85 L27.25 35.6 27.15 35.45 Z M24.35 36.75 L24.55 36.75 24.45 36.65 Z M24.7 37.95 L24.95 37.7 Z M22.95 36.35 L23.1 36.25 22.95 36.15 Z M25.4 36.45 L25.45 36.35 Z"/>
<path class="cst" d="M23.55 35.6 L24.1 35.5 24.3 35.35 25.0 35.42 25.7 35.3 26.3 35.3 26.2 35.0 25.5 35.0 24.8 34.92 24.0 35.1 23.55 35.25 Z M26.9 39.2 L26.75 38.8 27.1 38.45 26.35 38.3 26.45 38.05 27.2 37.95 27.25 37.5 27.5 37.2 27.3 36.95 28.1 37.05 28.0 36.75 28.9 36.65 29.6 36.15 30.4 36.25 30.65 36.85 31.4 36.75 32.2 36.35 32.9 36.05 33.6 36.15 34.05 36.3 34.6 36.8 35.3 36.6 35.55 36.6 35.9 36.75 36.2 36.6 36.15 36.2 35.9 35.9 M32.3 35.05 L32.4 34.75 33.0 34.6 33.6 34.85 34.0 34.95 34.05 35.15 33.9 35.25 34.6 35.7 33.8 35.4 33.0 35.35 32.75 35.15 Z"/>
<path class="cst" d="M48.5 29.95 L49.2 30.2 49.6 30.0 50.1 30.1 50.2 29.5 50.65 29.3 50.85 28.95 51.2 28.2 51.4 27.9 52.5 27.4 53.7 26.7 54.8 26.5 55.6 26.8 56.3 27.15 57.0 26.8 57.3 25.8 58.9 25.5 60.5 25.3 61.6 25.2 62.5 25.2 M55.3 26.7 L56.2 26.95 55.8 26.75 Z M48.8 39.3 L48.85 38.2 48.95 37.6 49.3 37.45 50.0 37.3 50.9 36.85 51.8 36.65 52.8 36.75 53.9 36.85 53.95 37.2 53.9 39.3"/>
<path class="cst" d="M38.75 18.08 L38.9 17.3 39.2 16.4 39.45 15.6 39.8 15.2 40.2 14.9 40.8 14.4 41.2 13.9 41.7 13.4 42.3 13.0 42.7 12.6 43.1 12.7 M43.25 11.45 L43.6 11.1 44.3 10.45 45.0 10.45 46.0 10.75 47.0 11.1 48.0 11.2 49.0 11.3 50.0 11.5 51.2 11.8 51.1 11.2 51.2 10.5 50.9 10.0 50.8 9.0 50.0 8.0 M39.9 15.8 L40.3 15.9 40.2 15.6 Z M13.2 13.6 L13.7 14.2 14.3 13.9 14.9 13.4 15.1 12.8 14.6 12.3 14.1 12.5 13.6 13.0 Z M-0.35 8.05 L-0.2 8.5 0.0 8.3 0.1 8.6 0.3 8.2 0.6 8.4 0.65 8.05"/>
<!-- internal borders -->
<path class="int" d="M-1.81 35.07 L-1.7 34.5 -1.6 33.6 -1.0 32.9 -1.08 32.27 -2.5 32.1 -3.72 31.69 -3.7 31.25 -4.5 30.8 -5.33 29.64 -7.0 29.4 -8.55 28.77 -8.67 27.3 -4.83 25.0 M-8.67 27.3 L-8.67 26.0 -12.0 26.0 -12.0 23.5 -13.0 23.5 -13.0 21.33 -16.95 21.33 -17.05 20.8 M8.6 36.95 L8.45 36.4 8.3 35.7 8.35 35.2 7.8 34.6 7.5 34.1 8.0 33.5 9.0 32.5 9.35 31.7 9.55 30.25 9.75 28.91 9.61 27.74 9.31 26.27 10.19 24.67 11.99 23.5 M11.55 33.15 L11.37 32.42 10.19 31.69 9.75 30.64 9.55 30.25 M25.15 31.6 L24.85 31.2 24.7 30.6 24.98 30.0 25.0 22.0 25.0 20.0 24.0 20.0 23.96 19.5 M25.0 22.0 L34.0 22.0 35.65 23.15 M34.2 31.3 L34.92 29.5 M34.98 29.5 L35.4 31.0 35.55 31.8 35.55 32.4 35.65 32.7 35.8 33.3 M35.1 33.1 L35.6 33.25 35.8 33.3 36.0 33.8 36.4 34.2 36.55 34.5 36.3 34.6 35.95 34.65 M35.65 32.7 L36.8 32.3 38.8 33.4 41.0 34.4 41.2 35.6 41.3 36.4 42.35 37.1 M38.8 33.4 L39.3 32.2 37.0 31.5 38.0 30.5 37.7 30.3 36.75 29.87 36.5 29.5 34.98 29.4 M39.3 32.2 L40.4 31.9 41.4 31.4 42.1 31.1 44.7 29.2 46.55 29.1 47.45 29.0 48.4 28.55 M46.55 29.1 L47.1 30.0 47.95 30.0 M50.8 24.75 L51.1 24.55 51.3 24.3 M51.6 24.25 L51.8 24.0 52.1 23.06 52.6 22.9 55.2 22.7 55.65 22.0 55.0 20.0 52.0 19.0 49.1 18.6 48.28 18.23 47.5 17.2 46.7 17.3 46.3 17.2 45.4 17.35 44.46 17.35 43.4 17.55 43.0 17.5 43.1 17.1 42.8 16.4 M55.2 22.7 L55.6 23.4 55.8 24.0 56.0 24.5 56.35 24.95 M52.0 19.0 L53.1 16.65"/>
<!-- MENA outline -->
<path class="out" d="M-16.4 16.55 L-16.3 17.3 -16.05 18.1 -16.15 18.8 -16.45 19.35 -16.25 19.8 -16.7 20.2 -17.05 20.8 -17.0 21.5 -16.8 22.2 -16.35 22.6 -16.0 23.4 -15.8 23.8 -15.2 24.4 -14.9 24.8 -14.6 25.4 -14.45 26.1 -13.7 26.7 -13.3 27.4 -12.95 27.95 -12.0 28.1 -11.3 28.35 -10.7 28.9 -10.2 29.4 -9.65 30.1 -9.6 30.45 -9.85 30.7 -9.8 31.4 -9.3 32.3 -8.6 33.2 -7.6 33.6 -6.85 34.05 -6.4 34.8 -6.1 35.4 -5.9 35.78 -5.4 35.9 -5.3 35.55 -4.7 35.2 -3.9 35.25 -3.2 35.3 -2.9 35.15 -2.2 35.1 -1.8 35.1 -1.2 35.3 -0.6 35.75 0.1 35.9 0.8 36.4 1.3 36.55 2.2 36.6 3.0 36.8 3.9 36.9 4.8 36.9 5.1 36.75 5.7 36.8 6.4 37.05 6.9 36.9 7.3 37.05 7.8 36.9 8.6 36.95 9.0 37.1 9.8 37.3 10.2 37.2 10.3 36.8 10.55 36.85 11.05 37.05 11.1 36.85 10.6 36.4 10.65 35.85 11.05 35.6 11.1 35.2 10.85 34.85 10.3 34.35 10.1 33.9 10.5 33.65 11.1 33.5 11.25 33.2 11.55 33.15 12.3 32.85 13.2 32.9 14.0 32.7 15.2 32.35 15.4 31.8 15.8 31.4 16.6 31.2 17.5 30.95 18.3 30.7 18.9 30.4 19.6 30.3 20.0 30.9 19.95 31.6 20.1 32.2 20.5 32.6 21.3 32.9 21.9 32.9 22.6 32.75 23.1 32.6 23.2 32.2 24.0 32.05 24.8 31.95 25.15 31.6 25.6 31.55 26.5 31.5 27.3 31.35 28.5 31.05 29.0 30.85 29.9 31.2 30.4 31.45 31.0 31.6 31.8 31.5 32.3 31.25 32.7 31.05 33.5 31.1 34.2 31.3 34.5 31.55 34.75 32.05 34.95 32.8 35.1 33.1 35.5 33.9 35.8 34.45 35.9 35.0 35.75 35.55 35.9 35.9 36.2 35.85 36.6 36.2 36.6 36.8 37.0 36.65 38.0 36.85 39.0 36.7 40.0 36.9 41.2 37.1 42.35 37.1 42.8 37.35 43.5 37.25 44.3 37.3 44.8 37.15 45.0 36.7 45.5 36.0 46.2 35.8 45.4 35.0 45.7 34.5 45.5 34.0 46.1 33.5 47.4 32.5 47.7 32.0 47.9 31.0 48.0 30.45 48.5 29.95 48.0 29.9 47.8 29.4 48.1 29.3 48.0 28.95 48.4 28.55 48.6 28.0 48.9 27.6 49.3 27.2 49.6 26.95 50.0 26.6 50.2 26.2 50.1 25.8 50.5 25.3 50.8 24.75 51.0 24.6 50.9 25.3 51.1 26.1 51.3 26.1 51.6 25.8 51.6 25.2 51.5 24.6 51.3 24.3 51.6 24.25 52.3 24.0 53.0 24.15 53.6 24.1 54.2 24.3 54.6 24.6 55.3 25.25 55.9 25.7 56.1 26.1 56.35 26.4 56.4 25.9 56.35 24.95 56.8 24.3 57.6 23.8 58.6 23.6 59.3 22.8 59.8 22.5 59.5 21.8 59.3 21.35 58.6 20.45 58.2 20.4 57.8 20.2 57.7 19.1 57.1 18.9 56.6 18.6 56.3 17.95 55.4 17.65 55.0 17.0 54.1 16.95 53.1 16.65 52.2 15.7 51.3 15.2 50.2 14.9 49.1 14.5 48.5 14.0 47.5 13.6 46.7 13.4 45.6 13.1 45.0 12.8 44.2 12.6 43.5 12.65 43.25 13.2 43.25 13.8 42.95 14.8 42.7 15.6 42.8 16.4 42.55 16.9 42.0 17.7 41.5 18.5 40.8 19.6 40.0 20.5 39.15 21.5 38.9 22.5 38.4 23.5 38.0 24.1 37.4 24.9 36.7 25.8 35.8 27.0 35.2 28.0 34.6 27.95 34.75 28.5 34.85 29.0 35.0 29.45 34.92 29.5 34.7 29.05 34.5 28.5 34.35 28.0 34.25 27.75 33.9 28.0 33.5 28.45 33.2 28.8 32.8 29.5 32.57 29.95 32.35 29.6 32.6 29.0 32.9 28.5 33.3 28.0 33.8 27.3 34.05 26.7 34.35 26.1 34.95 25.1 35.45 24.3 35.6 23.9 35.65 23.15 36.26 22.62 36.85 21.59 37.14 20.43 37.25 19.6 37.29 18.81 38.3 18.52 38.75 18.08 38.3 17.64 37.29 17.05 36.85 16.33 36.41 15.0 36.12 13.69 35.83 12.52 35.24 11.65 34.8 10.77 34.22 9.89 33.92 9.59 33.48 11.06 33.19 12.08 32.46 12.08 32.46 11.65 31.87 10.47 30.7 9.74 29.53 10.03 28.07 9.45 26.3 9.89 24.69 9.45 24.25 8.71 23.96 9.01 23.67 10.03 23.02 10.91 22.5 12.08 21.91 12.96 22.06 13.84 22.5 14.57 23.08 15.68 23.96 15.74 23.96 19.5 15.9 23.45 14.16 22.62 13.5 23.0 11.99 23.5 7.45 20.85 5.8 19.45 4.25 19.15 3.3 19.0 3.2 19.8 1.8 20.3 1.17 21.1 -4.83 25.0 -6.53 25.0 -5.6 16.4 -5.55 15.6 -9.4 15.6 -10.7 15.4 -12.0 15.3 -12.8 15.6 -13.6 16.3 -14.5 16.5 -15.6 16.6 Z"/>
<!-- Saudi Red Sea coast heavier (reefs) -->
<path class="out" style="stroke-width:2.4" d="M42.8 16.4 L42.55 16.9 42.0 17.7 41.5 18.5 40.8 19.6 40.0 20.5 39.15 21.5 38.9 22.5 38.4 23.5 38.0 24.1 37.4 24.9 36.7 25.8 35.8 27.0"/>
<!-- black islands -->
<path class="blk" d="M43.1 12.7 L43.4 12.0 42.8 11.55 43.25 11.45 42.95 11.0 42.4 10.98 41.8 11.0 41.75 11.5 42.3 12.4 42.7 12.45 Z M53.3 12.6 L53.8 12.68 54.5 12.55 54.2 12.32 53.6 12.3 53.3 12.45 Z M52.1 12.2 L52.4 12.2 M11.1 34.7 L11.3 34.8"/>
<path style="fill:#000;stroke:#000;stroke-width:0.8" d="M50.45 26.25 L50.65 26.2 50.6 25.8 50.45 25.95 Z"/>
</g>

<!-- black specks -->
<g fill="#000">
<circle cx="752" cy="312" r="1.6"/><circle cx="755" cy="316" r="2"/><circle cx="758" cy="320" r="2.2"/><circle cx="756" cy="324" r="1.8"/><circle cx="760" cy="318" r="1.5"/><circle cx="753" cy="319" r="1.3"/><circle cx="761" cy="326" r="1.5"/><circle cx="758" cy="312" r="1.2"/><circle cx="763" cy="330" r="1.2"/>
<circle cx="708" cy="290" r="1"/><circle cx="712" cy="292" r="1"/><circle cx="716" cy="288" r="0.9"/><circle cx="718" cy="294" r="0.9"/><circle cx="710" cy="295" r="0.8"/>
<circle cx="873" cy="222" r="0.9"/><circle cx="878" cy="225" r="0.9"/><circle cx="884" cy="226" r="1"/><circle cx="890" cy="224" r="0.9"/><circle cx="868" cy="220" r="0.9"/>
<circle cx="847" cy="200" r="0.9"/><circle cx="850" cy="205" r="0.8"/><circle cx="845" cy="212" r="0.8"/>
<circle cx="728" cy="236" r="1"/><circle cx="736" cy="248" r="1"/><circle cx="742" cy="262" r="0.9"/><circle cx="722" cy="226" r="0.9"/>
<circle cx="750" cy="338" r="0.9"/><circle cx="764" cy="342" r="0.9"/>
</g>
</g>

<!-- frame -->
<rect x="61" y="61.5" width="922.3" height="352.5" fill="none" stroke="#000" stroke-width="1"/>
<!-- ticks -->
<g stroke="#000" stroke-width="1">
<line x1="46" y1="107.3" x2="61" y2="107.3"/>
<line x1="46" y1="164.25" x2="61" y2="164.25"/>
<line x1="46" y1="221.2" x2="61" y2="221.2"/>
<line x1="46" y1="278.15" x2="61" y2="278.15"/>
<line x1="46" y1="335.1" x2="61" y2="335.1"/>
<line x1="46" y1="392.05" x2="61" y2="392.05"/>
<line x1="106.6" y1="414" x2="106.6" y2="429"/>
<line x1="277.3" y1="414" x2="277.3" y2="429"/>
<line x1="448" y1="414" x2="448" y2="429"/>
<line x1="618.7" y1="414" x2="618.7" y2="429"/>
<line x1="789.4" y1="414" x2="789.4" y2="429"/>
<line x1="960.1" y1="414" x2="960.1" y2="429"/>
</g>
<g font-size="16" text-anchor="end">
<text x="36" y="113.3">35°N</text>
<text x="36" y="170.25">30°N</text>
<text x="36" y="227.2">25°N</text>
<text x="36" y="284.15">20°N</text>
<text x="36" y="341.1">15°N</text>
<text x="36" y="398.05">10°N</text>
</g>
<g font-size="16" text-anchor="middle">
<text x="106.6" y="453">15°W</text>
<text x="277.3" y="453">0°</text>
<text x="448" y="453">15°E</text>
<text x="618.7" y="453">30°E</text>
<text x="789.4" y="453">45°E</text>
<text x="960.1" y="453">60°E</text>
</g>
<text x="521" y="476" font-size="18" text-anchor="middle">mm</text>

<!-- colorbar -->
<g stroke="#000" stroke-width="0.8">
<rect x="181" y="492.5" width="48.71" height="14" fill="#931a1d"/>
<rect x="229.71" y="492.5" width="48.71" height="14" fill="#cd1f29"/>
<rect x="278.42" y="492.5" width="48.71" height="14" fill="#eb5a2b"/>
<rect x="327.13" y="492.5" width="48.71" height="14" fill="#fd8f35"/>
<rect x="375.84" y="492.5" width="48.71" height="14" fill="#fec55e"/>
<rect x="424.55" y="492.5" width="48.71" height="14" fill="#fdf0b6"/>
<rect x="473.26" y="492.5" width="48.71" height="14" fill="#ffffff"/>
<rect x="521.97" y="492.5" width="48.71" height="14" fill="#ffffff"/>
<rect x="570.68" y="492.5" width="48.71" height="14" fill="#dff1f9"/>
<rect x="619.39" y="492.5" width="48.71" height="14" fill="#b0dcf2"/>
<rect x="668.1" y="492.5" width="48.71" height="14" fill="#74bbe4"/>
<rect x="716.81" y="492.5" width="48.71" height="14" fill="#4187c6"/>
<rect x="765.52" y="492.5" width="48.71" height="14" fill="#23519b"/>
<rect x="814.23" y="492.5" width="48.71" height="14" fill="#1b2b60"/>
</g>
<g font-size="12.5" text-anchor="middle">
<text x="229.71" y="524">-150</text>
<text x="278.42" y="524">-125</text>
<text x="327.13" y="524">-100</text>
<text x="375.84" y="524">-75</text>
<text x="424.55" y="524">-50</text>
<text x="473.26" y="524">-25</text>
<text x="521.97" y="524">0</text>
<text x="570.68" y="524">25</text>
<text x="619.39" y="524">50</text>
<text x="668.1" y="524">75</text>
<text x="716.81" y="524">100</text>
<text x="765.52" y="524">125</text>
<text x="814.23" y="524">150</text>
</g>
<text x="936" y="511.7" font-size="17">© ICBA</text>
</svg>
</body></html>
